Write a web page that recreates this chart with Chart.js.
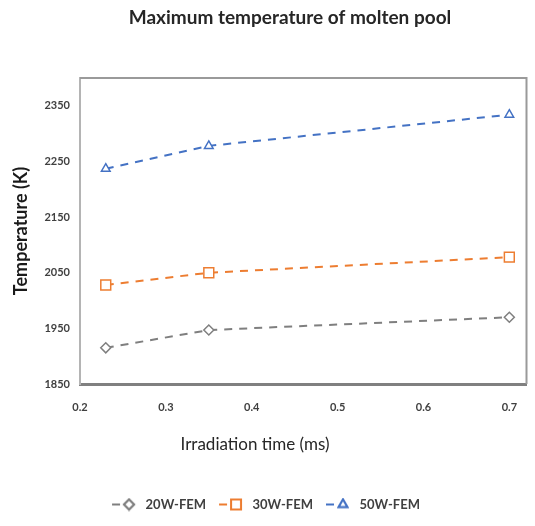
<!DOCTYPE html>
<html>
<head>
<meta charset="utf-8">
<script src="https://cdn.jsdelivr.net/npm/chart.js@4"></script>
<style>
  body { margin: 0; background: #fff; }
  #wrap { width: 535px; height: 526px; }
</style>
</head>
<body>
<div id="wrap"><canvas id="poolChart" width="535" height="526"></canvas></div>
<script>
// data
const irradiationTime = [0.23, 0.35, 0.7];
const temp20W = [1915, 1947, 1970];
const temp30W = [2028, 2050, 2078];
const temp50W = [2237, 2278, 2334];
const seriesNames = ['20W-FEM', '30W-FEM', '50W-FEM'];
const xTicks = [0.2, 0.3, 0.4, 0.5, 0.6, 0.7];
const yTicks = [1850, 1950, 2050, 2150, 2250, 2350];

const FONT = "Lato, 'Open Sans', sans-serif";

// small "--marker" picture for the legend
function legendIcon(ds) {
    const c = document.createElement('canvas');
    c.width = 28; c.height = 14;
    const g = c.getContext('2d');
    g.strokeStyle = ds.borderColor;
    g.lineWidth = 2;
    g.beginPath();
    g.moveTo(1, 7); g.lineTo(9, 7);
    g.stroke();
    Chart.helpers.drawPoint(g, {
        pointStyle: ds.pointStyle,
        radius: ds.pointRadius,
        borderWidth: 1.5,
        rotation: 0
    }, 18, 7);
    g.fillStyle = '#fff';
    g.fill();
    g.stroke();
    return c;
}

function makeSet(i, values, color, marker, radius) {
    return {
        label: seriesNames[i],
        data: irradiationTime.map((t, k) => ({ x: t, y: values[k] })),
        borderColor: color,
        backgroundColor: '#ffffff',
        borderWidth: 2,
        borderDash: [8, 7],
        pointStyle: marker,
        pointRadius: radius,
        pointBorderWidth: 1.5,
        pointBorderColor: color,
        pointBackgroundColor: '#ffffff'
    };
}

// frame on top/right, chart title and x axis title
const framePlugin = {
    id: 'frame',
    afterDraw(chart) {
        const { ctx, chartArea: a } = chart;
        ctx.save();
        ctx.strokeStyle = '#9a9a9a';
        ctx.lineWidth = 2;
        ctx.beginPath();
        ctx.moveTo(a.left, a.top);
        ctx.lineTo(a.right, a.top);
        ctx.lineTo(a.right, a.bottom);
        ctx.stroke();
        ctx.textAlign = 'center';
        ctx.textBaseline = 'middle';
        ctx.fillStyle = '#262626';
        ctx.font = 'bold 19px ' + FONT;
        ctx.fillText('Maximum temperature of molten pool', 290, 18);
        ctx.font = '17px ' + FONT;
        ctx.fillText('Irradiation time (ms)', 255, 445);
        ctx.restore();
    }
};

document.addEventListener('DOMContentLoaded', () => {
    const ctx = document.getElementById('poolChart').getContext('2d');

    new Chart(ctx, {
        type: 'line',
        data: {
            datasets: [
                makeSet(0, temp20W, '#7f7f7f', 'rectRot', 5),
                makeSet(1, temp30W, '#ed7d31', 'rect', 7),
                makeSet(2, temp50W, '#4472c4', 'triangle', 5)
            ]
        },
        options: {
            responsive: false,
            animation: false,
            layout: { padding: { top: 78, right: 4, bottom: 5 } },
            plugins: {
                title: { display: false },
                legend: {
                    position: 'bottom',
                    labels: {
                        usePointStyle: true,
                        pointStyleWidth: 28,
                        padding: 12,
                        color: '#404040',
                        font: { family: FONT, size: 13, weight: 'bold' },
                        generateLabels(chart) {
                            return chart.data.datasets.map((ds, i) => ({
                                text: ds.label,
                                pointStyle: legendIcon(ds),
                                fillStyle: '#fff',
                                strokeStyle: ds.borderColor,
                                lineWidth: 0,
                                fontColor: '#404040',
                                datasetIndex: i,
                                hidden: false
                            }));
                        }
                    }
                },
                tooltip: { enabled: false }
            },
            scales: {
                x: {
                    type: 'linear',
                    min: 0.2,
                    max: 0.72,
                    grid: { display: false, drawTicks: false },
                    border: { color: '#808080', width: 3 },
                    afterBuildTicks: s => { s.ticks = xTicks.map(v => ({ value: v })); },
                    afterFit: s => { s.height = 102; },
                    ticks: {
                        padding: 17,
                        color: '#404040',
                        font: { family: FONT, size: 11, weight: 'bold' },
                        callback: v => v.toFixed(1)
                    }
                },
                y: {
                    min: 1850,
                    max: 2400,
                    grid: { display: false, drawTicks: false },
                    border: { color: '#b4b4b4', width: 2 },
                    afterBuildTicks: s => { s.ticks = yTicks.map(v => ({ value: v })); },
                    afterFit: s => { s.width = 80; },
                    title: {
                        display: true,
                        text: 'Temperature (K)',
                        color: '#1a1a1a',
                        font: { family: FONT, size: 18, weight: 'bold' },
                        padding: { top: 10, bottom: 0 }
                    },
                    ticks: {
                        padding: 10,
                        color: '#404040',
                        font: { family: FONT, size: 11, weight: 'bold' },
                        callback: v => String(v)
                    }
                }
            }
        },
        plugins: [framePlugin]
    });
});
</script>
</body>
</html>
